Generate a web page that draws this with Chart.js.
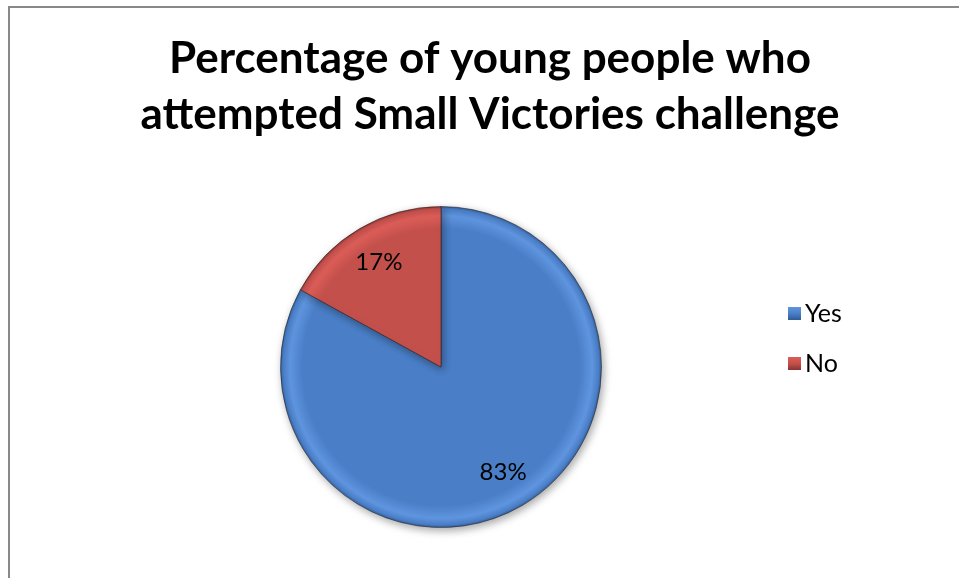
<!DOCTYPE html>
<html lang="en">
<head>
    <meta charset="UTF-8">
    <title>Percentage of young people who attempted Small Victories challenge</title>
    <style>
        html, body {
            margin: 0;
            padding: 0;
            width: 959px;
            height: 578px;
            overflow: hidden;
            background: #ffffff;
        }
        .frame {
            position: absolute;
            left: 8px;
            top: 6px;
            width: 1000px;
            height: 1000px;
            border: 2px solid #898989;
        }
        #pieChart {
            position: absolute;
            left: 10px;
            top: 8px;
        }
    </style>
    <script src="https://cdn.jsdelivr.net/npm/chart.js"></script>
</head>
<body>
    <div class="frame"></div>
    <canvas id="pieChart" width="960" height="580"></canvas>

    <script>
        const categories = ['Yes', 'No'];
        const percentages = [83, 17];
        const titleLines = ['Percentage of young people who', 'attempted Small Victories challenge'];

        const baseColors = ['#4a7fc8', '#c4504c'];
        const lightColors = ['#5f95de', '#dc5d58'];
        const darkColors = ['#2f5a94', '#8a3331'];

        // bevelled fill: flat body, bright band near the rim, dark outer edge
        function sliceFill(context) {
            const chart = context.chart;
            const area = chart.chartArea;
            const i = context.dataIndex;
            if (!area) return baseColors[i];
            const cx = (area.left + area.right) / 2;
            const cy = (area.top + area.bottom) / 2;
            const r = Math.min(area.right - area.left, area.bottom - area.top) / 2;
            const g = chart.ctx.createRadialGradient(cx, cy, 0, cx, cy, r);
            g.addColorStop(0, baseColors[i]);
            g.addColorStop(0.86, baseColors[i]);
            g.addColorStop(0.94, lightColors[i]);
            g.addColorStop(0.98, baseColors[i]);
            g.addColorStop(1, darkColors[i]);
            return g;
        }

        const pieShadow = {
            id: 'pieShadow',
            beforeDatasetsDraw(chart) {
                const ctx = chart.ctx;
                ctx.save();
                ctx.shadowColor = 'rgba(0, 0, 0, 0.35)';
                ctx.shadowBlur = 8;
                ctx.shadowOffsetX = 2;
                ctx.shadowOffsetY = 3;
            },
            afterDatasetsDraw(chart) {
                chart.ctx.restore();
            }
        };

        // title, percent labels inside each slice, and the legend on the right
        const pieText = {
            id: 'pieText',
            afterDraw(chart) {
                const ctx = chart.ctx;
                ctx.save();
                ctx.fillStyle = '#000000';
                ctx.textAlign = 'center';
                ctx.textBaseline = 'alphabetic';
                ctx.font = 'bold 44px Lato';
                ctx.fillText(titleLines[0], 480, 65);
                ctx.fillText(titleLines[1], 480, 121);

                const meta = chart.getDatasetMeta(0);
                ctx.font = '24px Lato';
                ctx.textBaseline = 'middle';
                meta.data.forEach((arc, i) => {
                    const p = arc.getProps(['x', 'y', 'startAngle', 'endAngle', 'outerRadius']);
                    const mid = (p.startAngle + p.endAngle) / 2;
                    const d = p.outerRadius * 0.76;
                    ctx.fillText(percentages[i] + '%', p.x + Math.cos(mid) * d, p.y + Math.sin(mid) * d);
                });

                const lx = 778;
                const rows = [305, 355];
                ctx.textAlign = 'left';
                ctx.font = '25px Lato';
                categories.forEach((name, i) => {
                    const y = rows[i];
                    const g = ctx.createLinearGradient(lx, y - 6, lx, y + 7);
                    g.addColorStop(0, lightColors[i]);
                    g.addColorStop(0.5, baseColors[i]);
                    g.addColorStop(1, darkColors[i]);
                    ctx.fillStyle = g;
                    ctx.fillRect(lx, y - 6, 13, 13);
                    ctx.fillStyle = '#000000';
                    ctx.fillText(name, lx + 17, y + 1);
                });
                ctx.restore();
            }
        };

        new Chart(document.getElementById('pieChart'), {
            type: 'pie',
            data: {
                labels: categories,
                datasets: [{
                    data: percentages,
                    backgroundColor: sliceFill,
                    borderColor: 'rgba(40, 30, 30, 0.55)',
                    borderWidth: 1
                }]
            },
            options: {
                responsive: false,
                animation: false,
                layout: {
                    padding: { left: 270, right: 368, top: 198, bottom: 60 }
                },
                plugins: {
                    legend: { display: false },
                    tooltip: { enabled: false },
                    title: { display: false }
                }
            },
            plugins: [pieShadow, pieText]
        });
    </script>
</body>
</html>
